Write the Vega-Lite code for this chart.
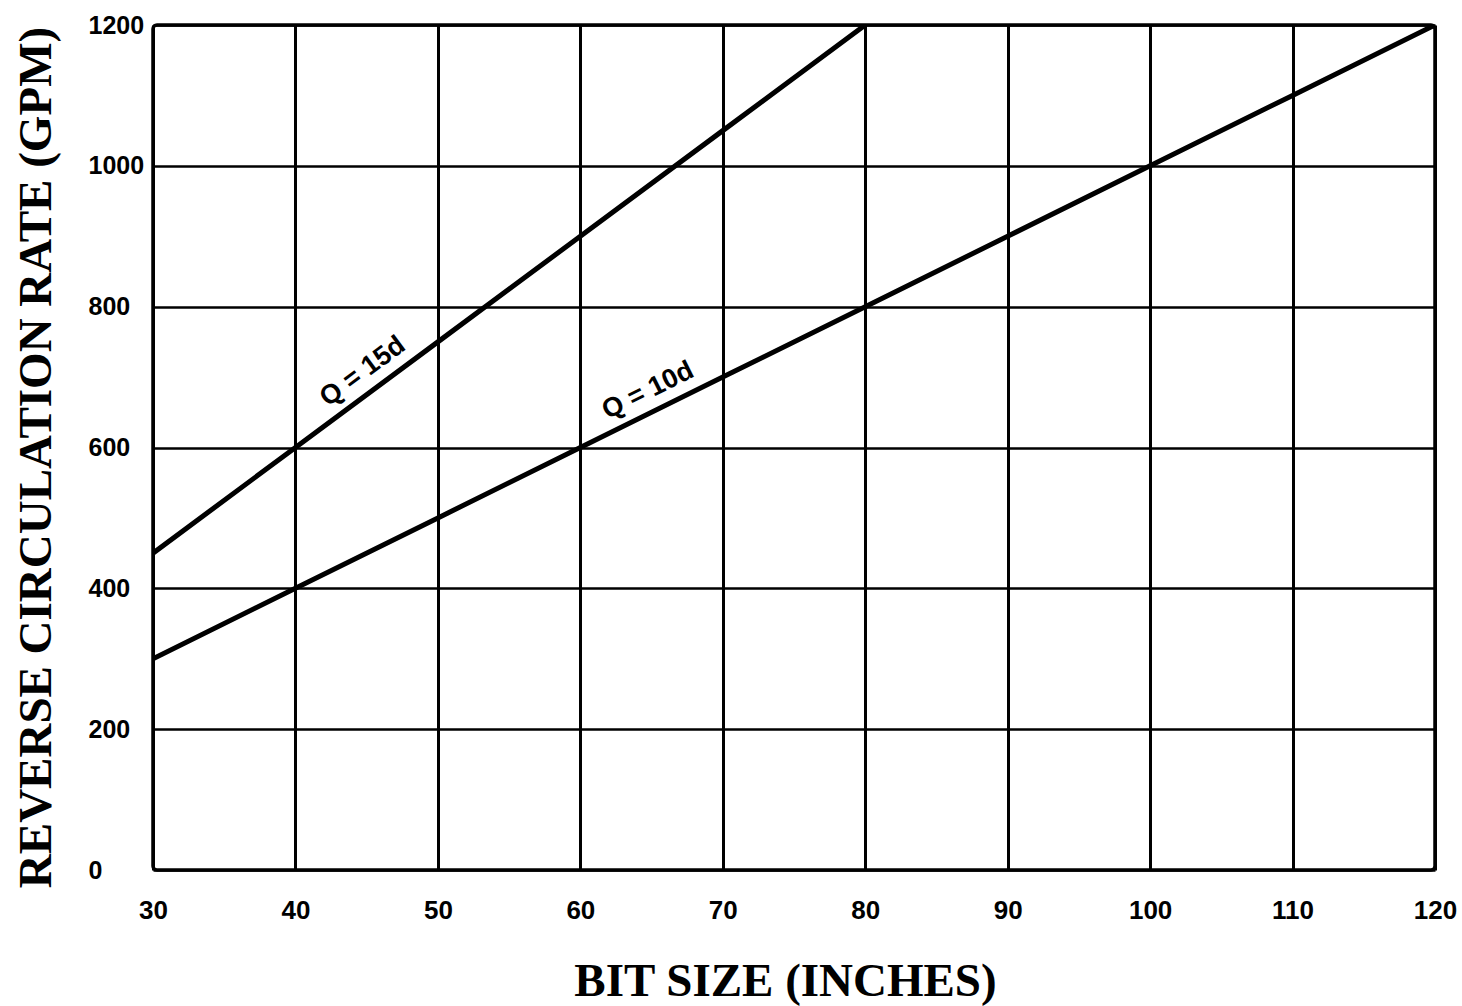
{
  "$schema": "https://vega.github.io/schema/vega-lite/v6.json",
  "width": 1282,
  "height": 845,
  "autosize": {"type": "none"},
  "padding": {"left": 153, "top": 25, "right": 27, "bottom": 136},
  "background": "white",
  "config": {
    "view": {"stroke": "black", "strokeWidth": 3.5, "cornerRadius": 4},
    "font": "Liberation Sans"
  },
  "datasets": {
    "lines": [
      {"bit": 30, "rate": 450, "series": "Q = 15d"},
      {"bit": 40, "rate": 600, "series": "Q = 15d"},
      {"bit": 50, "rate": 750, "series": "Q = 15d"},
      {"bit": 60, "rate": 900, "series": "Q = 15d"},
      {"bit": 70, "rate": 1050, "series": "Q = 15d"},
      {"bit": 80, "rate": 1200, "series": "Q = 15d"},
      {"bit": 30, "rate": 300, "series": "Q = 10d"},
      {"bit": 40, "rate": 400, "series": "Q = 10d"},
      {"bit": 50, "rate": 500, "series": "Q = 10d"},
      {"bit": 60, "rate": 600, "series": "Q = 10d"},
      {"bit": 70, "rate": 700, "series": "Q = 10d"},
      {"bit": 80, "rate": 800, "series": "Q = 10d"},
      {"bit": 90, "rate": 900, "series": "Q = 10d"},
      {"bit": 100, "rate": 1000, "series": "Q = 10d"},
      {"bit": 110, "rate": 1100, "series": "Q = 10d"},
      {"bit": 120, "rate": 1200, "series": "Q = 10d"}
    ]
  },
  "layer": [
    {
      "data": {"name": "lines"},
      "mark": {"type": "line", "color": "black", "strokeWidth": 5, "clip": true},
      "encoding": {
        "x": {
          "field": "bit", "type": "quantitative",
          "scale": {"domain": [30, 120], "nice": false, "zero": false},
          "axis": {
            "values": [30, 40, 50, 60, 70, 80, 90, 100, 110, 120],
            "format": "d",
            "title": "BIT SIZE (INCHES)",
            "titleFont": "Liberation Serif",
            "titleFontWeight": "bold",
            "titleFontSize": 47,
            "titleColor": "black",
            "titleX": 632,
            "titleY": 125,
            "titleBaseline": "alphabetic",
            "titleAlign": "center",
            "labelFont": "Liberation Sans",
            "labelFontWeight": "bold",
            "labelFontSize": 26,
            "labelColor": "black",
            "labelPadding": 27,
            "labelBaseline": "top",
            "labelFlush": false,
            "labelOverlap": false,
            "ticks": false,
            "tickSize": 0,
            "domain": false,
            "grid": true,
            "gridColor": "black",
            "gridWidth": 3,
            "gridOpacity": 1
          }
        },
        "y": {
          "field": "rate", "type": "quantitative",
          "scale": {"domain": [0, 1200], "nice": false},
          "axis": {
            "values": [0, 200, 400, 600, 800, 1000, 1200],
            "format": "d",
            "title": "REVERSE CIRCULATION RATE (GPM)",
            "titleFont": "Liberation Serif",
            "titleFontWeight": "bold",
            "titleFontSize": 47,
            "titleColor": "black",
            "titleAngle": -90,
            "titleX": -117,
            "titleY": 432,
            "titleBaseline": "middle",
            "titleAlign": "center",
            "labelFont": "Liberation Sans",
            "labelFontWeight": "bold",
            "labelFontSize": 25,
            "labelColor": "black",
            "labelAlign": "left",
            "labelPadding": 65,
            "labelFlush": false,
            "labelOverlap": false,
            "ticks": false,
            "tickSize": 0,
            "domain": false,
            "grid": true,
            "gridColor": "black",
            "gridWidth": 2.5,
            "gridOpacity": 1
          }
        },
        "detail": {"field": "series"}
      }
    },
    {
      "data": {"values": [{"bit": 45.6, "rate": 684, "label": "Q = 15d"}]},
      "mark": {"type": "text", "angle": 323.4, "dy": -21, "baseline": "middle", "align": "center", "font": "Liberation Sans", "fontWeight": "bold", "fontSize": 27, "color": "black"},
      "encoding": {
        "x": {"field": "bit", "type": "quantitative"},
        "y": {"field": "rate", "type": "quantitative"},
        "text": {"field": "label"}
      }
    },
    {
      "data": {"values": [{"bit": 65.4, "rate": 654, "label": "Q = 10d"}]},
      "mark": {"type": "text", "angle": 333.7, "dy": -21, "baseline": "middle", "align": "center", "font": "Liberation Sans", "fontWeight": "bold", "fontSize": 27, "color": "black"},
      "encoding": {
        "x": {"field": "bit", "type": "quantitative"},
        "y": {"field": "rate", "type": "quantitative"},
        "text": {"field": "label"}
      }
    }
  ]
}
